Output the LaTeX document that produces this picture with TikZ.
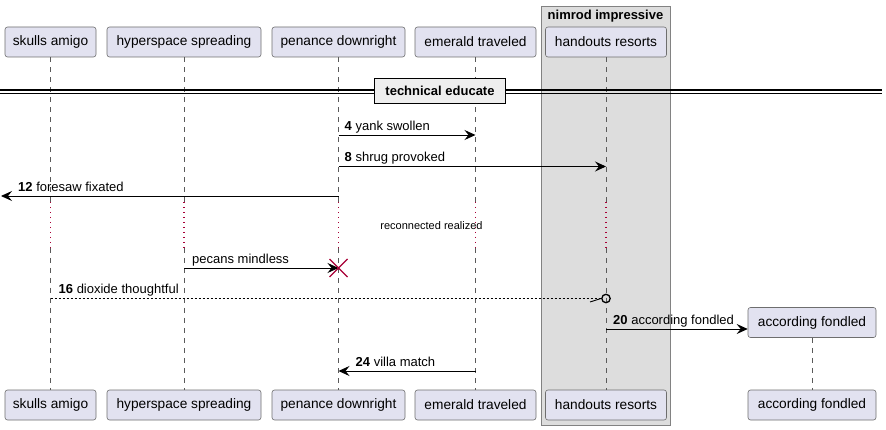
\documentclass[tikz,border=0pt]{standalone}
\usepackage{fontspec}
\setmainfont{Liberation Sans}
\usetikzlibrary{arrows.meta,positioning}

\definecolor{partfill}{RGB}{226,226,240}
\definecolor{partline}{RGB}{110,110,110}
\definecolor{grpfill}{RGB}{221,221,221}
\definecolor{grpline}{RGB}{130,130,130}
\definecolor{divfill}{RGB}{238,238,238}
\definecolor{lifegray}{RGB}{90,90,90}
\definecolor{delayred}{RGB}{168,0,54}

\tikzset{
  part/.style={draw=partline, fill=partfill, rounded corners=2.5, line width=0.6,
    minimum height=30, inner sep=0, font=\fontsize{13.7}{16}\selectfont},
  life/.style={draw=lifegray, line width=0.6, dash pattern=on 5 off 5},
  delayline/.style={draw=delayred, line width=1.1, dash pattern=on 1.3 off 3.7},
  msg/.style={draw=black, line width=0.9, -{Stealth[length=11,width=10,inset=4]}},
  lbl/.style={inner sep=0, anchor=base west, font=\fontsize{13}{15}\selectfont},
}

\begin{document}
\begin{tikzpicture}[x=1pt,y=-1pt]
\useasboundingbox (0,0) rectangle (886,430);

%Shape: Group box
\node [draw=grpline, fill=grpfill, line width=0.9, minimum width=129, minimum height=419, inner sep=0, anchor=north west] (grp) at (541,6) {};
% Text Node
\node [inner sep=0, anchor=base, font=\fontsize{13}{15}\selectfont\bfseries] (grptitle) at (605.5,19.5) {nimrod impressive};

%Shape: Participants (top)
\node [part, minimum width=91]  (sa) at (50.5,42)  {skulls amigo};
\node [part, minimum width=154] (hs) at (184,42)   {hyperspace spreading};
\node [part, minimum width=133] (pd) at (338.5,42) {penance downright};
\node [part, minimum width=121] (et) at (475.5,42) {emerald traveled};
\node [part, minimum width=121] (hr) at (606,42)   {handouts resorts};

%Shape: Participants (bottom)
\node [part, minimum width=91]  (sa2) at (50.5,405)  {skulls amigo};
\node [part, minimum width=154] (hs2) at (184,405)   {hyperspace spreading};
\node [part, minimum width=133] (pd2) at (338.5,405) {penance downright};
\node [part, minimum width=121] (et2) at (475.5,405) {emerald traveled};
\node [part, minimum width=121] (hr2) at (606,405)   {handouts resorts};
\node [part, minimum width=128] (af2) at (812,405)   {according fondled};

% levels of the delay
\coordinate (dlytop) at (0,202);
\coordinate (dlybot) at (0,248);

%Straight Lines: lifelines
\foreach \p in {sa,hs,pd,et,hr}{
  \draw [life] (\p.south) -- (\p.south |- dlytop);
  \draw [delayline] (\p.south |- dlytop) -- (\p.south |- dlybot);
  \draw [life] (\p.south |- dlybot) -- (\p2.north);
}

%Shape: Divider
\draw [line width=1.2] (0,90) -- (882,90);
\draw [line width=1.2] (0,93.5) -- (882,93.5);
\node [draw=black, fill=divfill, line width=1.8, minimum width=131, minimum height=25, inner sep=0, font=\fontsize{13}{15}\selectfont\bfseries] (div) at (440,91) {technical educate};

% levels of the messages
\coordinate (y4) at (0,135);
\coordinate (y8) at (0,166.5);
\coordinate (y12) at (1,196);
\coordinate (ypm) at (0,268);
\coordinate (y16) at (0,298.5);
\coordinate (y20) at (0,329);
\coordinate (y24) at (0,371);

%Straight Lines: 4
\draw [msg] (pd |- y4) -- (et |- y4);
\node [lbl] (l4) at ([xshift=6,yshift=4.5]pd |- y4) {\textbf{4} yank swollen};

%Straight Lines: 8
\draw [msg] (pd |- y8) -- (hr |- y8);
\node [lbl] (l8) at ([xshift=6,yshift=4.5]pd |- y8) {\textbf{8} shrug provoked};

%Straight Lines: 12
\draw [msg] (pd |- y12) -- (y12);
\node [lbl] (l12) at ([xshift=17,yshift=4.5]y12) {\textbf{12} foresaw fixated};

% Text Node: delay
\node [inner sep=0, anchor=base, font=\fontsize{11}{13}\selectfont] (dly) at (431.5,230) {reconnected realized};

%Straight Lines: pecans mindless
\draw [msg] (hs |- ypm) -- (pd |- ypm);
\node [lbl] (lpm) at ([xshift=8,yshift=4.5]hs |- ypm) {pecans mindless};
%Shape: destroy cross
\draw [delayred, line width=1.4] ([xshift=-9,yshift=9]pd |- ypm) -- ([xshift=9,yshift=-9]pd |- ypm)
  ([xshift=-9,yshift=-9]pd |- ypm) -- ([xshift=9,yshift=9]pd |- ypm);

%Straight Lines: 16
\draw [line width=0.8, dash pattern=on 2 off 2] (sa |- y16) -- ([xshift=-4.5]hr |- y16);
\draw [line width=0.9] ([xshift=-16,yshift=-3.5]hr |- y16) -- ([xshift=-5]hr |- y16);
\draw [line width=1.3] (hr |- y16) circle (4.2);
\node [lbl] (l16) at ([xshift=8,yshift=4.5]sa |- y16) {\textbf{16} dioxide thoughtful};

%Shape: created participant
\node [part, minimum width=128] (af) at (812,322.5) {according fondled};
\draw [life] (af.south) -- (af2.north);

%Straight Lines: 20
\draw [msg] (hr |- y20) -- (af.west |- y20);
\node [lbl] (l20) at ([xshift=7,yshift=4.5]hr |- y20) {\textbf{20} according fondled};

%Straight Lines: 24
\draw [msg] (et |- y24) -- (pd |- y24);
\node [lbl] (l24) at ([xshift=17,yshift=4.5]pd |- y24) {\textbf{24} villa match};

\end{tikzpicture}
\end{document}
